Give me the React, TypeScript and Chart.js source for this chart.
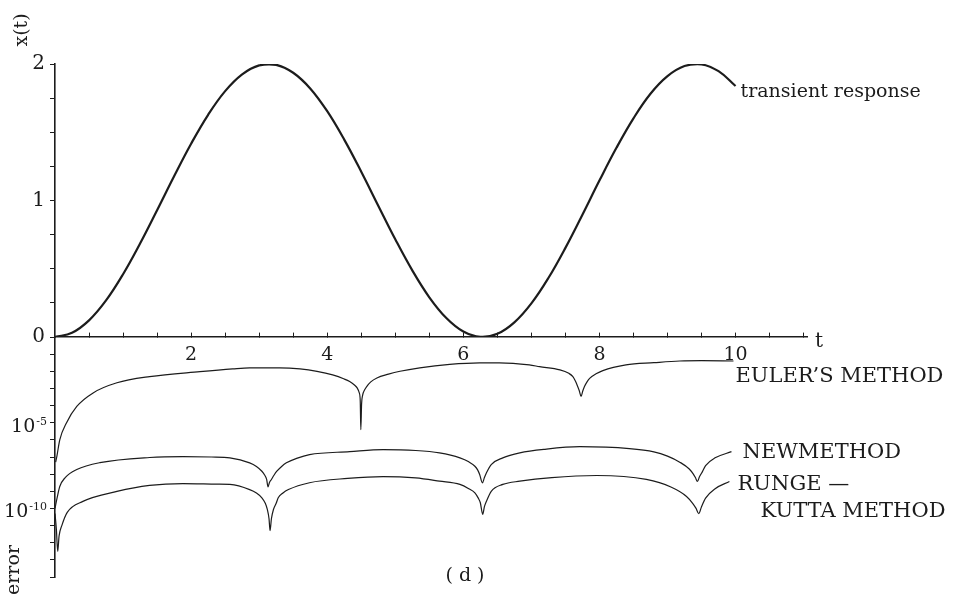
import React, { useEffect, useRef } from 'react';
import { Chart, registerables } from 'chart.js';

Chart.register(...registerables);

// ---------- data ----------
const responseT = [0, 0.25, 0.5, 0.75, 1, 1.25, 1.5, 1.75, 2, 2.25, 2.5, 2.75, 3, 3.25, 3.5, 3.75, 4, 4.25, 4.5, 4.75, 5, 5.25, 5.5, 5.75, 6, 6.25, 6.5, 6.75, 7, 7.25, 7.5, 7.75, 8, 8.25, 8.5, 8.75, 9, 9.25, 9.5, 9.75, 10];
const responseX = [0, 0.031, 0.122, 0.268, 0.46, 0.685, 0.929, 1.178, 1.416, 1.628, 1.801, 1.924, 1.99, 1.994, 1.936, 1.821, 1.654, 1.446, 1.211, 0.962, 0.716, 0.488, 0.291, 0.139, 0.04, 0.001, 0.023, 0.107, 0.246, 0.432, 0.653, 0.896, 1.146, 1.386, 1.602, 1.782, 1.911, 1.985, 1.997, 1.948, 1.839];

// error curves: t and log10(error)
const eulerT = [0.01, 0.03, 0.07, 0.17, 0.32, 0.56, 0.91, 1.39, 2.13, 2.61, 2.86, 3.3, 3.6, 3.85, 4.08, 4.25, 4.33, 4.4, 4.44, 4.47, 4.485, 4.494, 4.505, 4.52, 4.55, 4.58, 4.64, 4.73, 4.9, 5.07, 5.36, 5.8, 6.24, 6.53, 6.97, 7.12, 7.42, 7.55, 7.61, 7.65, 7.68, 7.705, 7.73, 7.755, 7.78, 7.82, 7.86, 7.95, 8.05, 8.39, 8.8, 9.18, 9.5, 9.97];
const eulerLog10 = [-7.3, -6.9, -6.0, -5.0, -4.05, -3.26, -2.67, -2.31, -2.02, -1.86, -1.8, -1.8, -1.86, -2.0, -2.21, -2.45, -2.6, -2.8, -2.97, -3.25, -3.7, -5.4, -3.9, -3.4, -3.08, -2.89, -2.62, -2.39, -2.17, -2.0, -1.8, -1.6, -1.51, -1.51, -1.63, -1.73, -1.92, -2.12, -2.31, -2.6, -2.89, -3.15, -3.47, -3.15, -2.89, -2.6, -2.4, -2.15, -1.96, -1.63, -1.5, -1.4, -1.38, -1.4];

const newT = [0.0, 0.03, 0.07, 0.15, 0.32, 0.66, 1.39, 1.88, 2.3, 2.57, 2.86, 2.96, 3.04, 3.08, 3.11, 3.13, 3.15, 3.18, 3.22, 3.26, 3.33, 3.4, 3.55, 3.74, 4.33, 4.82, 5.3, 5.65, 5.95, 6.08, 6.17, 6.21, 6.24, 6.28, 6.31, 6.34, 6.41, 6.58, 6.83, 7.2, 7.71, 8.44, 8.8, 9.0, 9.18, 9.32, 9.38, 9.41, 9.44, 9.47, 9.5, 9.56, 9.7, 9.94];
const newLog10 = [-10.0, -9.4, -8.72, -8.2, -7.73, -7.33, -7.03, -6.98, -7.0, -7.05, -7.34, -7.55, -7.83, -8.05, -8.31, -8.74, -8.5, -8.31, -8.05, -7.83, -7.55, -7.34, -7.08, -6.86, -6.69, -6.57, -6.62, -6.76, -7.05, -7.28, -7.54, -7.75, -8.02, -8.51, -8.2, -7.92, -7.44, -7.05, -6.76, -6.55, -6.4, -6.51, -6.7, -6.95, -7.3, -7.7, -8.0, -8.2, -8.43, -8.15, -7.95, -7.5, -7.05, -6.69];

const rkT = [0.0, 0.02, 0.04, 0.06, 0.1, 0.18, 0.41, 0.91, 1.39, 1.88, 2.38, 2.57, 2.86, 2.96, 3.04, 3.09, 3.12, 3.145, 3.16, 3.18, 3.21, 3.25, 3.28, 3.35, 3.43, 3.74, 4.3, 4.82, 5.3, 5.65, 5.95, 6.08, 6.17, 6.22, 6.25, 6.285, 6.31, 6.34, 6.41, 6.58, 6.83, 7.3, 7.96, 8.69, 9.05, 9.28, 9.37, 9.42, 9.46, 9.5, 9.56, 9.7, 9.91];
const rkLog10 = [-10.3, -11.2, -12.5, -11.6, -11.0, -10.23, -9.59, -9.01, -8.66, -8.55, -8.58, -8.6, -8.9, -9.1, -9.38, -9.7, -10.06, -10.6, -11.3, -10.6, -10.06, -9.7, -9.38, -9.1, -8.9, -8.5, -8.25, -8.14, -8.22, -8.41, -8.6, -8.85, -9.09, -9.4, -9.67, -10.35, -9.9, -9.58, -9.0, -8.6, -8.41, -8.2, -8.08, -8.31, -8.75, -9.3, -9.7, -10.0, -10.3, -9.9, -9.4, -8.85, -8.43];

// ticks
const xTickValues = [0.5, 1, 1.5, 2, 2.5, 3, 3.5, 4, 4.5, 5, 5.5, 6, 6.5, 7, 7.5, 8, 8.5, 9, 9.5, 10, 10.5, 11];
const xTickLabels = [2, 4, 6, 8, 10];
const yTickValues = [0, 0.25, 0.5, 0.75, 1, 1.25, 1.5, 1.75, 2];
const yTickLabels = [0, 1, 2];
const errTickExponents = [-14, -13, -12, -11, -10, -9, -8, -7, -6, -5, -4, -3, -2, -1, 0];
const errLabelExponents = [-5, -10];
const errLabelSup = ['-5', '-10'];

const FONT = "'DejaVu Serif', 'Liberation Serif', serif";
const INK = '#1c1c1c';

const labelsPlugin = {
  id: 'freeLabels',
  afterDraw(chart: any) {
    const ctx = chart.ctx as CanvasRenderingContext2D;
    const xs = chart.scales.x;
    const ys = chart.scales.y;
    const es = chart.scales.y2;
    ctx.save();
    ctx.fillStyle = INK;
    const put = (s: string, x: number, y: number, size: number, align: CanvasTextAlign = 'left', baseline: CanvasTextBaseline = 'alphabetic', rot = 0) => {
      ctx.save();
      ctx.font = `${size}px ${FONT}`;
      ctx.textAlign = align;
      ctx.textBaseline = baseline;
      ctx.translate(x, y);
      if (rot) ctx.rotate(rot);
      ctx.fillText(s, 0, 0);
      ctx.restore();
    };
    // log-axis labels 10^n with a real superscript
    errLabelExponents.forEach((e, i) => {
      const py = es.getPixelForValue(Math.pow(10, e));
      ctx.font = `19px ${FONT}`;
      const w10 = ctx.measureText('10').width;
      ctx.font = `11px ${FONT}`;
      const wsup = ctx.measureText(errLabelSup[i]).width;
      const x0 = es.right - 8 - wsup - w10 - 1;
      put('10', x0, py + 4, 19, 'left', 'middle');
      put(errLabelSup[i], x0 + w10 + 1, py + 2, 11, 'left', 'alphabetic');
    });
    const x10 = xs.getPixelForValue(10);
    put('x(t)', 22, 30, 19, 'center', 'middle', -Math.PI / 2);
    put('error', 14, 570, 19, 'center', 'middle', -Math.PI / 2);
    put('t', xs.right + 8, ys.getPixelForValue(0) + 5, 20, 'left', 'middle');
    put('transient response', x10 + 5, 97, 19);
    put('EULER\u2019S METHOD', x10, 382, 21);
    put('NEWMETHOD', x10 + 7, 458, 21);
    put('RUNGE \u2014', x10 + 2, 490, 21);
    put('KUTTA METHOD', x10 + 25, 517, 21);
    put('( d )', 465, 581, 19, 'center');
    ctx.restore();
  },
};

export default function App() {
  const ref = useRef<HTMLCanvasElement | null>(null);

  useEffect(() => {
    if (!ref.current) return;
    const line = (xs: number[], ys: number[]) => xs.map((x, i) => ({ x, y: ys[i] }));
    const errLine = (xs: number[], logs: number[]) => xs.map((x, i) => ({ x, y: Math.pow(10, logs[i]) }));
    const common = {
      borderColor: INK,
      pointRadius: 0,
      fill: false,
    };
    const chart = new Chart(ref.current, {
      type: 'line',
      data: {
        datasets: [
          { ...common, label: 'transient response', data: line(responseT, responseX), yAxisID: 'y', borderWidth: 2.2, tension: 0.4 },
          { ...common, label: "EULER'S METHOD", data: errLine(eulerT, eulerLog10), yAxisID: 'y2', borderWidth: 1.2, cubicInterpolationMode: 'monotone' },
          { ...common, label: 'NEWMETHOD', data: errLine(newT, newLog10), yAxisID: 'y2', borderWidth: 1.2, cubicInterpolationMode: 'monotone' },
          { ...common, label: 'RUNGE-KUTTA METHOD', data: errLine(rkT, rkLog10), yAxisID: 'y2', borderWidth: 1.2, cubicInterpolationMode: 'monotone' },
        ],
      },
      options: {
        responsive: false,
        animation: false,
        events: [],
        layout: { padding: { left: 0, right: 147, top: 64, bottom: 20 } },
        plugins: { legend: { display: false }, tooltip: { enabled: false } },
        scales: {
          y2: {
            type: 'logarithmic',
            min: 1e-14,
            max: 1,
            position: 'left',
            stack: 'left',
            stackWeight: 240,
            afterBuildTicks: (s: any) => { s.ticks = errTickExponents.map((e) => ({ value: Math.pow(10, e) })); },
            afterFit: (s: any) => { s.width = 55; },
            ticks: {
              autoSkip: false,
              padding: 5,
              color: INK,
              font: { family: FONT, size: 20 },
              callback: () => '',
            },
            grid: { drawOnChartArea: false, drawTicks: true, tickLength: 5, color: INK },
            border: { display: true, color: INK, width: 1.6 },
          },
          y: {
            type: 'linear',
            min: 0,
            max: 2,
            position: 'left',
            stack: 'left',
            stackWeight: 273,
            afterBuildTicks: (s: any) => { s.ticks = yTickValues.map((v) => ({ value: v })); },
            afterFit: (s: any) => { s.width = 55; },
            ticks: {
              autoSkip: false,
              padding: 5,
              color: INK,
              font: { family: FONT, size: 20 },
              callback: (v: any) => (yTickLabels.includes(Number(v)) ? String(v) : ''),
            },
            grid: { drawOnChartArea: false, drawTicks: true, tickLength: 5, color: INK },
            border: { display: true, color: INK, width: 1.6 },
          },
          x: {
            type: 'linear',
            min: 0,
            max: 11.05,
            position: { y: 0 } as any,
            afterBuildTicks: (s: any) => { s.ticks = xTickValues.map((v) => ({ value: v })); },
            ticks: {
              autoSkip: false,
              maxRotation: 0,
              padding: 12,
              color: INK,
              font: { family: FONT, size: 19 },
              callback: (v: any) => (xTickLabels.includes(Number(v)) ? String(v) : ''),
            },
            grid: { drawOnChartArea: false, drawTicks: true, tickLength: -5, color: INK, lineWidth: 1 },
            border: { display: true, color: INK, width: 1.6 },
          },
        },
      } as any,
      plugins: [labelsPlugin],
    });
    return () => chart.destroy();
  }, []);

  return (
    <div style={{ position: 'absolute', left: 0, top: 0, width: 954, height: 597, background: '#fff' }}>
      <canvas ref={ref} width={954} height={597} style={{ display: 'block' }} />
    </div>
  );
}
